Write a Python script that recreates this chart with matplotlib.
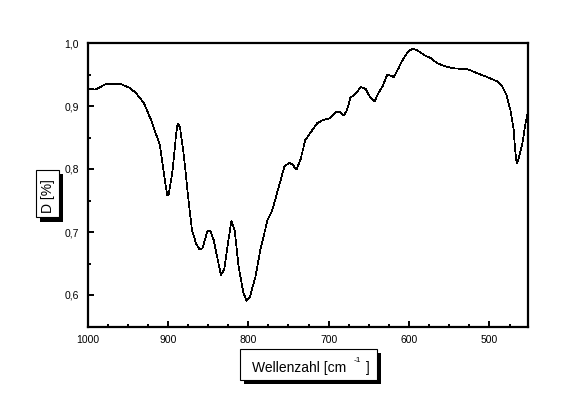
"""IR spectrum plot (Wellenzahl vs. D) in the old Origin style."""

import matplotlib

matplotlib.use("Agg")

import matplotlib.pyplot as plt
from matplotlib.patches import Rectangle
from matplotlib.ticker import FuncFormatter, MultipleLocator

W, H = 565, 413

wavenumber = [
    1000, 990, 977, 959, 948, 940, 930, 921, 913, 910,
    905, 901, 899, 894, 890, 888, 885, 880, 874, 870,
    865, 861, 857, 851, 847, 843, 838, 834, 830, 824,
    821, 817, 812, 806, 802, 798, 791, 785, 776, 770,
    762, 755, 749, 745, 740, 735, 729, 723, 714, 708,
    698, 691, 686, 681, 677, 673, 667, 660, 654, 648,
    643, 638, 633, 627, 623, 619, 613, 609, 602, 596,
    590, 586, 580, 573, 565, 557, 546, 536, 526, 515,
    503, 490, 484, 479, 474, 470, 468, 466, 464, 459,
    455, 451,
]
absorbance = [
    0.928, 0.926, 0.935, 0.935, 0.929, 0.921, 0.905, 0.878, 0.849, 0.838,
    0.793, 0.759, 0.759, 0.799, 0.852, 0.872, 0.867, 0.820, 0.746, 0.703,
    0.682, 0.673, 0.674, 0.701, 0.702, 0.687, 0.656, 0.632, 0.640, 0.693,
    0.717, 0.703, 0.645, 0.603, 0.591, 0.597, 0.629, 0.672, 0.719, 0.735,
    0.772, 0.804, 0.810, 0.807, 0.799, 0.815, 0.846, 0.857, 0.873, 0.877,
    0.881, 0.891, 0.891, 0.885, 0.894, 0.913, 0.919, 0.930, 0.927, 0.913,
    0.907, 0.921, 0.931, 0.950, 0.948, 0.946, 0.960, 0.971, 0.985, 0.991,
    0.989, 0.985, 0.980, 0.976, 0.968, 0.964, 0.960, 0.959, 0.958, 0.952,
    0.946, 0.939, 0.931, 0.918, 0.894, 0.865, 0.830, 0.809, 0.815, 0.841,
    0.873, 0.899,
]
x_ticks = [1000, 900, 800, 700, 600, 500]
y_ticks = [0.6, 0.7, 0.8, 0.9, 1.0]

FONT = "Liberation Sans"


def fx(px):
    return px / W


def fy(py):
    return 1 - py / H


def boxed_label(fig, x0, y0, x1, y1, shadow=4):
    """White box with a black drop shadow, pixel coords (top-left origin)."""
    sh = Rectangle((fx(x0 + shadow), fy(y1 + shadow)), fx(x1 - x0), (y1 - y0) / H,
                   transform=fig.transFigure, facecolor="black", edgecolor="none")
    box = Rectangle((fx(x0), fy(y1)), fx(x1 - x0), (y1 - y0) / H,
                    transform=fig.transFigure, facecolor="white",
                    edgecolor="black", linewidth=0.8)
    fig.add_artist(sh)
    fig.add_artist(box)


def decimal_comma(v, _pos):
    return f"{v:.1f}".replace(".", ",")


fig = plt.figure(figsize=(W / 100, H / 100), dpi=100)
ax = fig.add_axes([fx(87.5), fy(326.5), fx(528 - 87.5), (326.5 - 43) / H])

ax.plot(wavenumber, absorbance, color="black", linewidth=0.5, antialiased=False)

ax.set_xlim(1000, 452)
ax.set_ylim(0.55, 1.0)
ax.set_xticks(x_ticks)
ax.set_yticks(y_ticks)
ax.xaxis.set_minor_locator(MultipleLocator(25))
ax.yaxis.set_minor_locator(MultipleLocator(0.05))
ax.yaxis.set_major_formatter(FuncFormatter(decimal_comma))

for side in ax.spines.values():
    side.set_linewidth(1.6)
ax.tick_params(which="both", direction="in", width=1.4, top=False, right=False,
               labelsize=7.5, pad=6)
ax.tick_params(which="major", length=4.5)
ax.tick_params(which="minor", length=2.3)
for lbl in ax.get_xticklabels() + ax.get_yticklabels():
    lbl.set_fontfamily(FONT)

# y label box
boxed_label(fig, 35.5, 170, 59.3, 217.5)
fig.text(fx(48), fy(196), "D [%]", rotation=90, ha="center", va="center",
         fontsize=10, family=FONT)

# x label box
boxed_label(fig, 239.5, 349, 377, 380)
fig.text(fx(252), fy(372), "Wellenzahl [cm", ha="left", va="baseline",
         fontsize=10, family=FONT)
fig.text(fx(354), fy(362), "-1", ha="left", va="baseline", fontsize=6, family=FONT)
fig.text(fx(365.5), fy(372), "]", ha="left", va="baseline", fontsize=10, family=FONT)

fig.savefig("out.png", dpi=100)
plt.close(fig)
